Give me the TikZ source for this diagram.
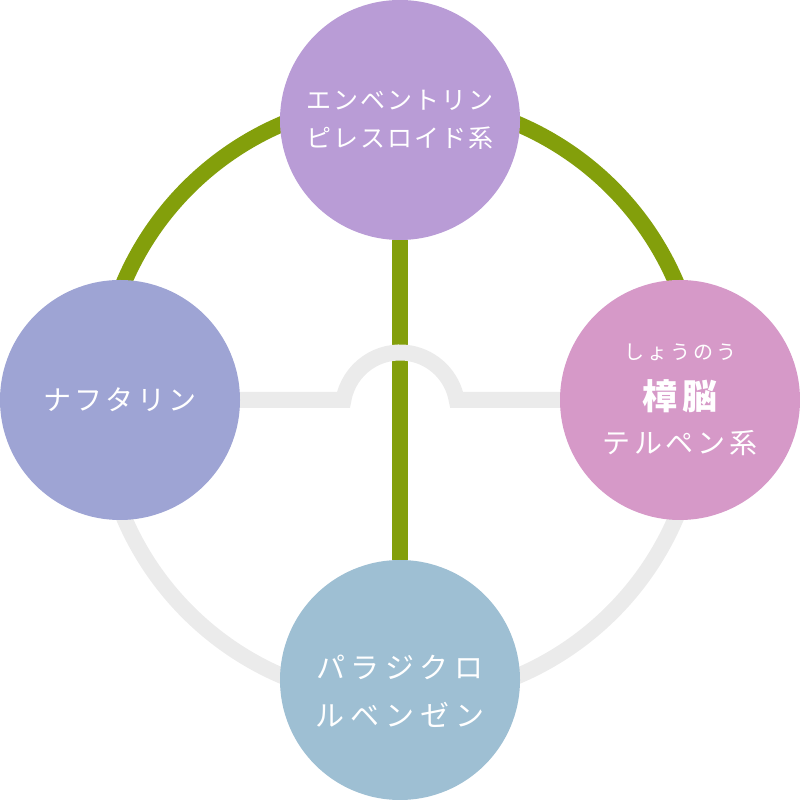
\documentclass[tikz,border=0pt]{standalone}
\usepackage{fontspec}
\usepackage{xcolor}
\usepackage{tikz}
\usetikzlibrary{positioning, backgrounds}
\newfontfamily\jpfont{Noto Sans CJK JP}
\definecolor{mypurple}{RGB}{185,156,214}
\definecolor{myindigo}{RGB}{158,164,212}
\definecolor{mypink}{RGB}{214,153,200}
\definecolor{myblue}{RGB}{158,191,211}
\definecolor{mygreen}{RGB}{131,159,11}
\definecolor{mygray}{RGB}{235,235,235}
\tikzstyle{bubble} = [circle, minimum size=240pt, inner sep=0pt, text=white, align=center]
\tikzstyle{greenline} = [line width=16pt, mygreen]
\tikzstyle{grayline} = [line width=16pt, mygray]

\begin{document}
\begin{tikzpicture}[x=1pt, y=1pt]
    \useasboundingbox (0,0) rectangle (800,800);
    \coordinate (o) at (400,400);
    \node[bubble, fill=mypurple, font={\jpfont\fontsize{25}{38}\selectfont\addfontfeatures{LetterSpace=8}}] (pyre) at (400,680) {エンベントリン\\ピレスロイド系};
    \node[bubble, fill=myindigo, font={\jpfont\fontsize{28}{40}\selectfont\addfontfeatures{LetterSpace=11}}] (naph) at (120,400) {ナフタリン};
    \node[bubble, fill=mypink, font={\jpfont\fontsize{28}{44}\selectfont\addfontfeatures{LetterSpace=14}}] (camph) at (680,400) {{\fontsize{20}{22}\selectfont\addfontfeatures{LetterSpace=15}しょうのう}\\[6pt]{\fontsize{35}{40}\selectfont\bfseries\addfontfeatures{LetterSpace=14}樟脳}\\テルペン系};
    \node[bubble, fill=myblue, text height=94pt, font={\jpfont\fontsize{29}{48}\selectfont\addfontfeatures{LetterSpace=20}}] (para) at (400,120) {パラジクロ\\ルベンゼン};
    \begin{scope}[on background layer]
        \draw[grayline] (o) ++(180:300) arc[start angle=180, end angle=360, radius=300];
        \draw[greenline] (o) ++(0:300) arc[start angle=0, end angle=180, radius=300];
        \draw[greenline] (pyre) -- (para);
        \draw[grayline] (naph) -- ([xshift=-56.6pt]o) arc[start angle=170, end angle=10, radius=57.5] -- (camph);
    \end{scope}
\end{tikzpicture}
\end{document}
